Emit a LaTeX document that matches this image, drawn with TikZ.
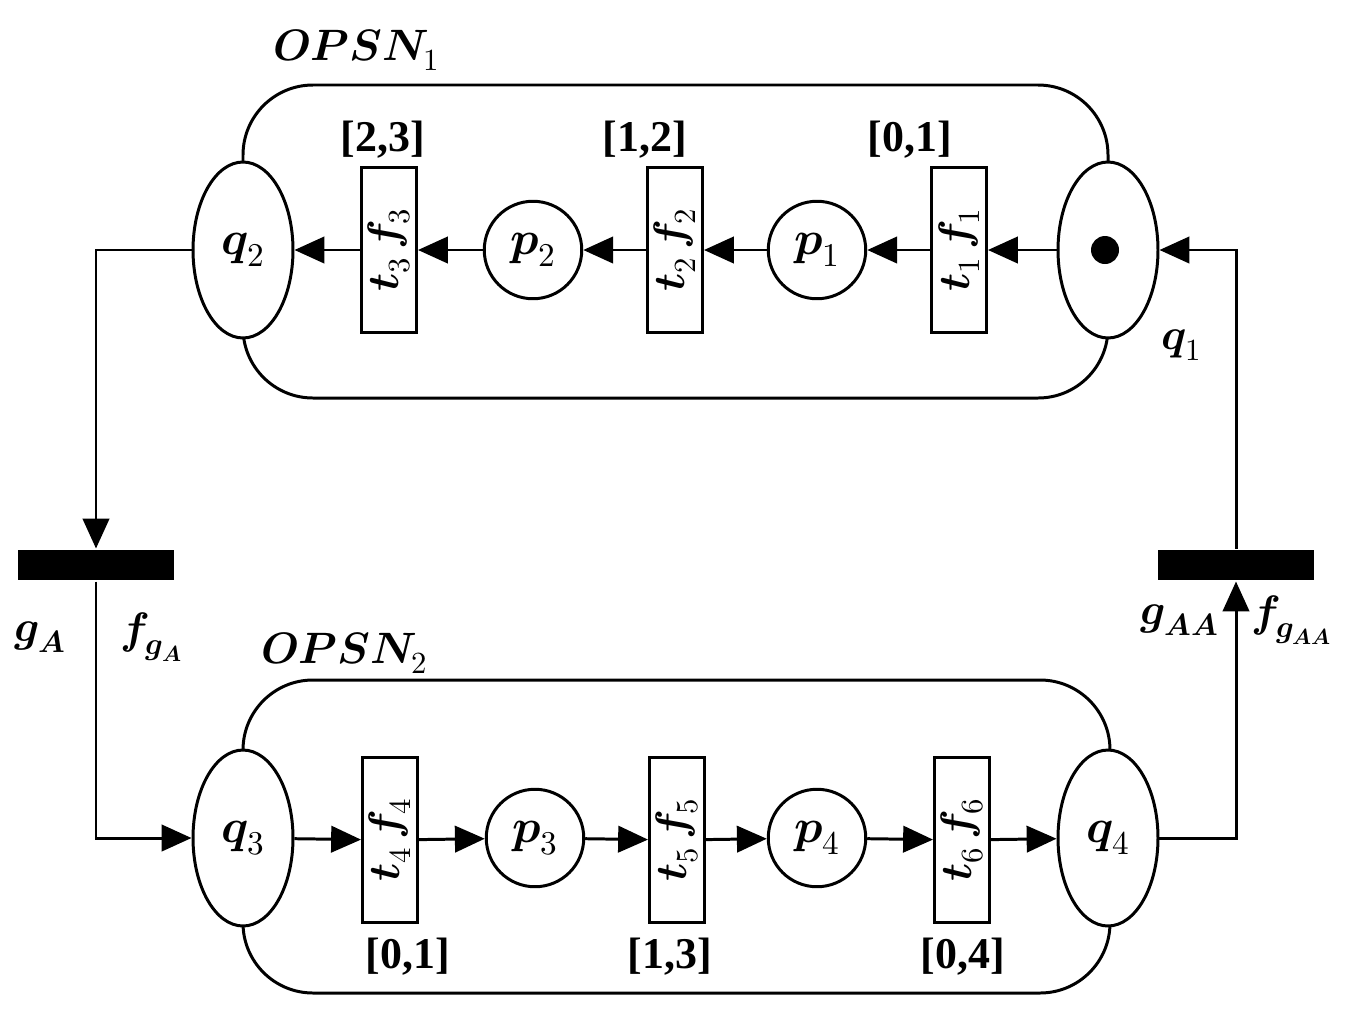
\documentclass[tikz,border=0pt]{standalone}
\usepackage{fontspec}
\setmainfont{Liberation Serif}
\usepackage{unicode-math}
\setmathfont{Latin Modern Math}
\usetikzlibrary{shapes.geometric,arrows.meta}
\begin{document}
\begin{tikzpicture}[x=0.02cm,y=-0.02cm,line width=1.7pt,
  big/.style={font=\fontsize{25}{30}\selectfont\bfseries},
  pl/.style={draw,fill=white,ellipse,minimum width=2cm,minimum height=3.52cm,inner sep=0pt,font=\fontsize{27}{30}\selectfont\bfseries},
  cp/.style={draw,fill=white,circle,minimum size=1.95cm,inner sep=0pt,font=\fontsize{27}{30}\selectfont\bfseries},
  tr/.style={draw,fill=white,minimum width=1.1cm,minimum height=3.3cm,inner sep=0pt},
  tl/.style={rotate=90,font=\fontsize{25}{30}\selectfont\bfseries},
  bar/.style={fill=black,minimum width=3.14cm,minimum height=0.6cm,inner sep=0pt},
  arr/.style={-{Triangle[length=17pt,width=15pt]}}]
\useasboundingbox (0,0) rectangle (1366,1018);
\draw[rounded corners=1.4cm] (243,85) rectangle (1108,398);
\draw[rounded corners=1.4cm] (243,680) rectangle (1110,993);
% top
\node[pl] (q2) at (243,250) {$\symbfit{q_2}$};
\node[pl] (q1) at (1108,250) {};
\fill (1105,250) circle (0.28cm);
\node[tr] (t3) at (389,250) {}; \node[tl] at (t3) {$\symbfit{t_3\,f_3}$};
\node[tr] (t2) at (675,250) {}; \node[tl] at (t2) {$\symbfit{t_2\,f_2}$};
\node[tr] (t1) at (959,250) {}; \node[tl] at (t1) {$\symbfit{t_1\,f_1}$};
\node[cp] (p2) at (533,250) {$\symbfit{p_2}$};
\node[cp] (p1) at (817,250) {$\symbfit{p_1}$};
\draw[arr] (q1) -- (t1); \draw[arr] (t1) -- (p1); \draw[arr] (p1) -- (t2);
\draw[arr] (t2) -- (p2); \draw[arr] (p2) -- (t3); \draw[arr] (t3) -- (q2);
\node[big] (l1) at (383,140) {[2,3]};
\node[big] (l2) at (645,140) {[1,2]};
\node[big] (l3) at (910,140) {[0,1]};
\node[big] (o1) at (357,50) {$\symbfit{OPSN_1}$};
\node[big] (q1l) at (1182,345) {$\symbfit{q_1}$};
% bottom
\node[pl] (q3) at (243,838) {$\symbfit{q_3}$};
\node[pl] (q4) at (1108,838) {$\symbfit{q_4}$};
\node[tr] (t4) at (390,840) {}; \node[tl] at (t4) {$\symbfit{t_4\,f_4}$};
\node[tr] (t5) at (677,840) {}; \node[tl] at (t5) {$\symbfit{t_5\,f_5}$};
\node[tr] (t6) at (962,840) {}; \node[tl] at (t6) {$\symbfit{t_6\,f_6}$};
\node[cp] (p3) at (535,838) {$\symbfit{p_3}$};
\node[cp] (p4) at (817,838) {$\symbfit{p_4}$};
\draw[arr] (q3) -- (t4); \draw[arr] (t4) -- (p3); \draw[arr] (p3) -- (t5);
\draw[arr] (t5) -- (p4); \draw[arr] (p4) -- (t6); \draw[arr] (t6) -- (q4);
\node[big] at (408,957) {[0,1]};
\node[big] at (670,957) {[1,3]};
\node[big] at (963,957) {[0,4]};
\node[big] at (345,653) {$\symbfit{OPSN_2}$};
% bars
\node[bar] (gA) at (96,565) {};
\node[bar] (gAA) at (1236,565) {};
\node[big] at (40,637) {$\symbfit{g_A}$};
\node[big] at (152,637) {$\symbfit{f_{g_A}}$};
\node[big] at (1180,620) {$\symbfit{g_{AA}}$};
\node[big] at (1292,620) {$\symbfit{f_{g_{AA}}}$};
\draw[arr] (q2.west) -- (96,250) -- (gA.north);
\draw[arr] (gA.south) -- (96,838) -- (q3.west);
\draw[arr] (q4.east) -- (1236,838) -- (gAA.south);
\draw[arr] (gAA.north) -- (1236,250) -- (q1.east);
\end{tikzpicture}
\end{document}
